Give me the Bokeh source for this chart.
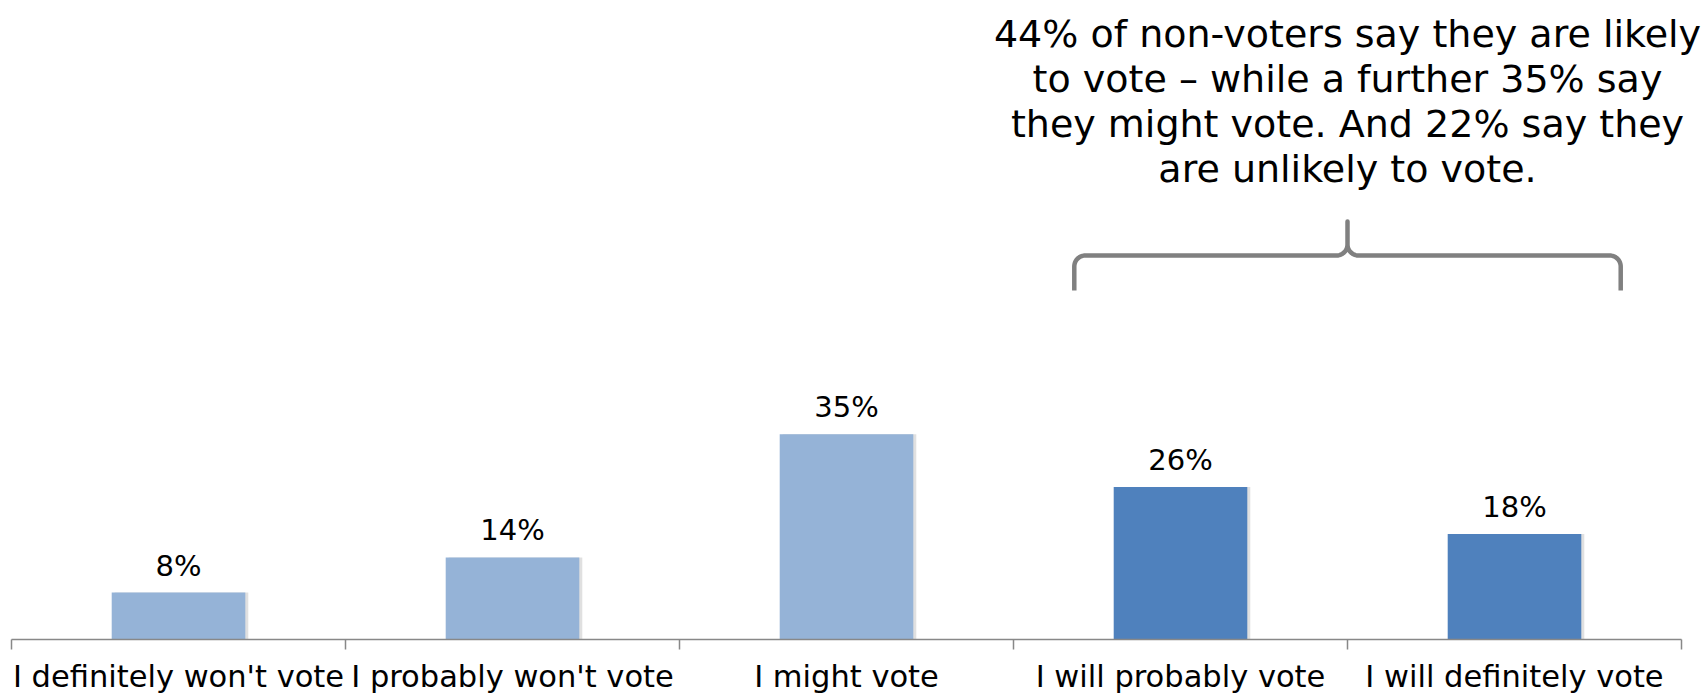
import math
from bokeh.plotting import figure
from bokeh.models import Range1d, FixedTicker, Label, ColumnDataSource
from bokeh.embed import file_html
from bokeh.resources import INLINE
from bokeh.core.properties import value

categories = ["I definitely won't vote", "I probably won't vote", "I might vote",
              "I will probably vote", "I will definitely vote"]
values = [8, 14, 35, 26, 18]
value_labels = ["8%", "14%", "35%", "26%", "18%"]
bar_colors = ["#95B3D7", "#95B3D7", "#95B3D7", "#4F81BD", "#4F81BD"]
note_lines = ["44% of non-voters say they are likely",
              "to vote \u2013 while a further 35% say",
              "they might vote. And 22% say they",
              "are unlikely to vote."]

FONT = "DejaVu Sans"
W, H = 1708, 696
BL, BR, BT, BB = 11, 0, 0, 57
Y_MAX = 109.0
N = len(categories)
CAT_W = 334.0  # pixels per category

fw = W - BL - BR
fh = H - BT - BB
X_MAX = fw / CAT_W
sx = CAT_W
sy = fh / Y_MAX

centers = [i + 0.5 for i in range(N)]
src = ColumnDataSource(dict(x=centers, top=values, color=bar_colors, lab=value_labels))

p = figure(width=W, height=H, output_backend="svg", toolbar_location=None,
           x_range=Range1d(0, X_MAX), y_range=Range1d(0, Y_MAX),
           y_axis_location=None, min_border_left=BL, min_border_right=BR,
           min_border_top=BT, min_border_bottom=BB)
p.outline_line_color = None
p.xgrid.visible = False
p.ygrid.visible = False
p.background_fill_color = "white"
p.border_fill_color = "white"

# soft shadow + bars
p.vbar(x=[c + 3 / sx for c in centers], top=values, width=0.4, bottom=0,
       fill_color="#000000", fill_alpha=0.12, line_color=None)
p.vbar(x="x", top="top", width=0.4, bottom=0, source=src, fill_color="color",
       line_color=None)

p.text(x="x", y="top", text="lab", source=src, text_align="center",
       text_baseline="middle", y_offset=-27, text_font=value(FONT),
       text_font_size="29px", text_color="#000000")

ax = p.xaxis[0]
ax.bounds = (0, N)
ax.ticker = FixedTicker(ticks=centers, minor_ticks=list(range(N + 1)))
ax.major_label_overrides = {c: cat for c, cat in zip(centers, categories)}
ax.major_tick_out = 0
ax.major_tick_in = 0
ax.minor_tick_out = 10
ax.minor_tick_in = 0
ax.minor_tick_line_color = "#888888"
ax.minor_tick_line_width = 1.5
ax.axis_line_color = "#888888"
ax.axis_line_width = 1.5
ax.major_label_text_font = FONT
ax.major_label_text_font_size = "30.5px"
ax.major_label_text_color = "#000000"
ax.major_label_standoff = 9

# bracket over the last two categories (offsets in pixels, y up)
xc = 4.0
half = 0.818
y_h = 65.5
leg = 35.0
peak = 34.0
r = 11.0
xs, ys = [], []
def arc(cx_px, cy_px, a0, a1, n=12):
    for k in range(n + 1):
        a = a0 + (a1 - a0) * k / n
        xs.append(cx_px + r * math.cos(a))
        ys.append(cy_px + r * math.sin(a))
L = -half * sx
R = half * sx
xs.append(L); ys.append(-leg)
arc(L + r, -r, math.pi, math.pi / 2)
arc(-r, r, -math.pi / 2, 0)
xs.append(0); ys.append(peak)
xs.append(0); ys.append(r)
arc(r, r, math.pi, 3 * math.pi / 2)
arc(R - r, -r, math.pi / 2, 0)
xs.append(R); ys.append(-leg)
bx = [xc + u / sx for u in xs]
by = [y_h + v / sy for v in ys]
p.line(bx, by, line_color="#808080", line_width=4.5, line_join="round", line_cap="butt")

# note text
note_y = [103.3, 95.6, 87.9, 80.2]
for t, yy in zip(note_lines, note_y):
    p.add_layout(Label(x=xc, y=yy, text=t, text_align="center", text_baseline="middle",
                       text_font=FONT, text_font_size="38px", text_color="#000000"))

open("out.html", "w").write(file_html(p, INLINE))
